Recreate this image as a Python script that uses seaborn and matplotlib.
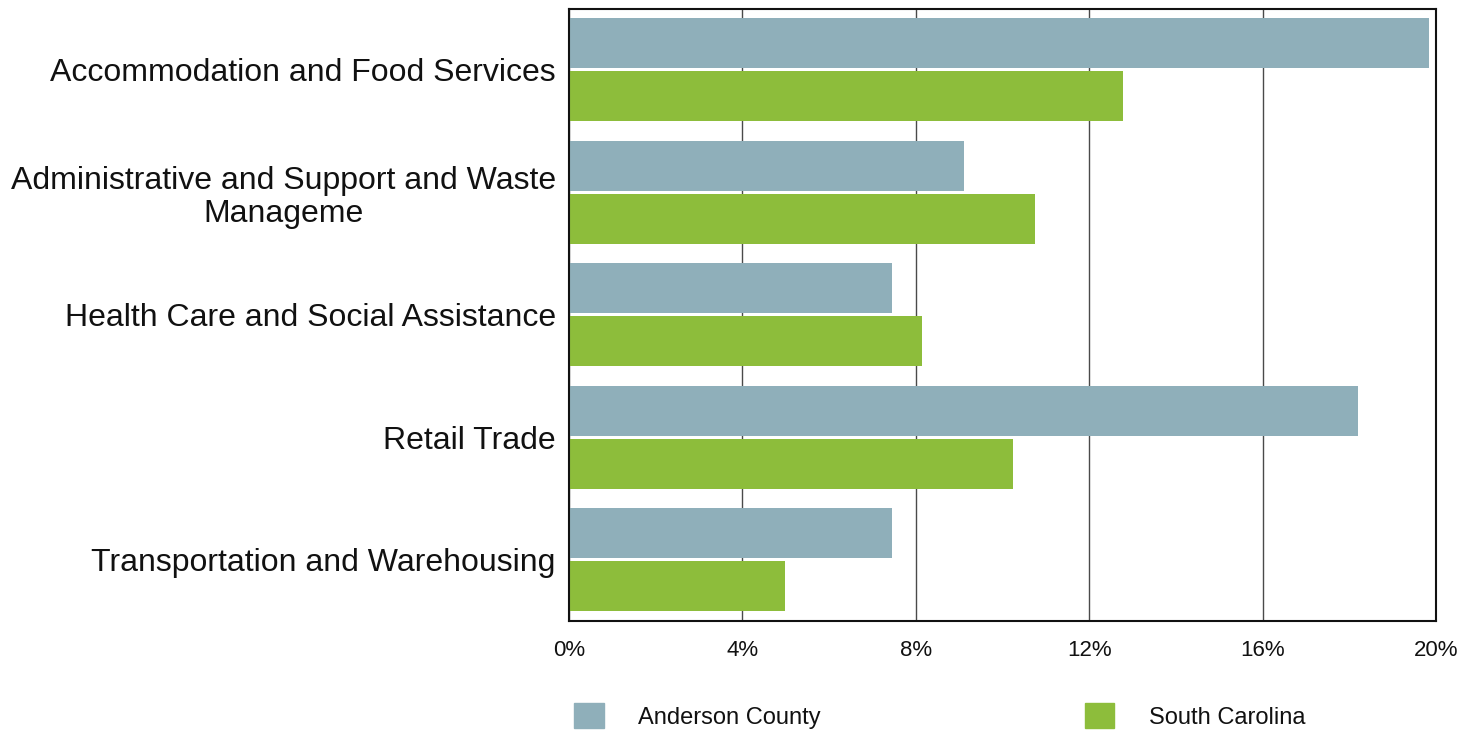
import pandas as pd
import matplotlib.pyplot as plt
import seaborn as sns
from matplotlib.ticker import FuncFormatter

industrias = ["Accommodation and Food Services",
              "Administrative and Support and Waste\nManageme",
              "Health Care and Social Assistance",
              "Retail Trade",
              "Transportation and Warehousing"]
anderson = [19.85, 9.12, 7.45, 18.2, 7.45]
carolina = [12.77, 10.75, 8.14, 10.24, 4.98]
series = ["Anderson County", "South Carolina"]
colores = ["#8FAFBA", "#8DBD3B"]

datos = pd.DataFrame({
    "industria": industrias * 2,
    "valor": anderson + carolina,
    "serie": [series[0]] * 5 + [series[1]] * 5,
})

sns.set_style("white")
plt.rcParams["font.family"] = ["Liberation Sans", "DejaVu Sans"]

fig = plt.figure(figsize=(14.73, 7.31), dpi=100)
ax = fig.add_axes([569 / 1473, 1 - 621 / 731, 867 / 1473, 612.5 / 731])

sns.barplot(data=datos, x="valor", y="industria", hue="serie", order=industrias,
            hue_order=series, palette=colores, width=0.865, gap=0.057,
            saturation=1, linewidth=0, ax=ax, legend=False)

ax.set_xlim(0, 20)
ax.set_xticks([0, 4, 8, 12, 16, 20])
ax.xaxis.set_major_formatter(FuncFormatter(lambda v, p: f"{v:.0f}%"))
ax.set_xlabel("")
ax.set_ylabel("")
ax.grid(axis="x", color="#4a4a4a", linewidth=1)
ax.set_axisbelow(True)
for s in ax.spines.values():
    s.set_visible(True)
    s.set_color("#111111")
    s.set_linewidth(1.5)
ax.tick_params(axis="x", length=0, pad=14, labelsize=16, colors="#111111")
ax.tick_params(axis="y", length=0, pad=9.5, labelsize=23, colors="#111111")
for t in ax.get_yticklabels():
    t.set_multialignment("center")
    t.set_linespacing(1.15)

handles = [plt.Rectangle((0, 0), 1, 1, color=c) for c in colores]
leg = fig.legend(handles, series, loc="center left", bbox_to_anchor=(574 / 1473, 1 - 716 / 731),
                 ncol=2, frameon=False, fontsize=17, handlelength=1.25, handleheight=1.2,
                 handletextpad=1.45, columnspacing=11.2, borderpad=0, borderaxespad=0)
for t in leg.get_texts():
    t.set_color("#111111")

fig.savefig("out.png", dpi=100)
